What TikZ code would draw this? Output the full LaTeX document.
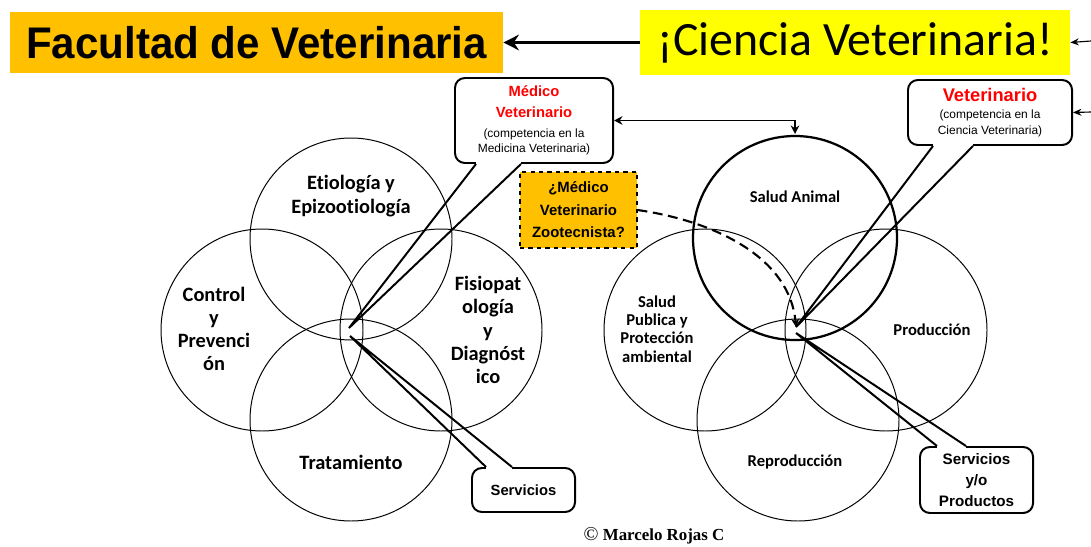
\documentclass[tikz,border=0pt]{standalone}
\usepackage{fontspec}
\setmainfont[Ligatures=NoCommon]{Carlito}
\newfontfamily\arial{Liberation Sans}
\newfontfamily\arialn[FakeStretch=0.95]{Liberation Sans}
\newfontfamily\serifb{Liberation Serif}
\usetikzlibrary{arrows.meta,calc,positioning}

\definecolor{orangebox}{HTML}{FFC000}
\definecolor{yellowbox}{HTML}{FFFF00}
\definecolor{redtext}{HTML}{FF0000}

\tikzset{
    venn/.style={line width=0.7pt},
    vennthick/.style={line width=1.6pt},
    biglabel/.style={font=\bfseries\fontsize{14.5}{16.5}\selectfont, align=center, inner sep=0pt},
    smalllabel/.style={font=\bfseries\fontsize{11.8}{13}\selectfont, align=center, inner sep=0pt},
    callout/.style={draw, line width=1.4pt, rounded corners=7pt, fill=white, align=center, inner sep=0pt},
    tail/.style={line width=1.4pt, line join=miter},
    bigarrow/.style={line width=2.2pt, -{Stealth[length=11pt,width=11pt]}},
    thinarrow/.style={line width=0.8pt, -{Stealth[length=6pt,width=5pt]}}
}

\begin{document}
\begin{tikzpicture}[x=0.025cm, y=-0.025cm]
    \useasboundingbox (0,0) rectangle (1091,546);

    % Titles
    \node[fill=orangebox, minimum width=12.325cm, minimum height=1.525cm, inner sep=0pt,
          font=\arialn\bfseries\fontsize{31.5}{36}\selectfont] (facultad) at (256.5,42.5) {Facultad de Veterinaria};
    \node[fill=yellowbox, minimum width=10.75cm, minimum height=1.625cm, inner sep=0pt,
          font=\fontsize{34}{40}\selectfont] (ciencia) at (855,42.5) {¡Ciencia Veterinaria!};
    \draw[bigarrow] (ciencia.west) -- (facultad.east);

    % Arrows coming in from the right
    \coordinate (inA) at (1091,41);
    \coordinate (inB) at (1091,112);
    \draw[thinarrow] (inA) -- (ciencia.east);

    % Left circles
    \foreach \c in {(351,239), (262,330), (441,330), (351,420)}
        \draw[venn] \c circle (101);

    % Right circles (Salud Animal thicker)
    \foreach \c in {(705,330), (886,330), (798,420)}
        \draw[venn] \c circle (101);
    \draw[vennthick] (795,238) circle (102);

    % Circle labels
    \node[biglabel] (etio) at (351,196) {Etiología y\\Epizootiología};
    \node[biglabel] (control) at (214,329) {Control\\y\\Prevenci\\ón};
    \node[biglabel] (fisio) at (488,330) {Fisiopat\\ología\\y\\Diagnóst\\ico};
    \node[biglabel] (trata) at (351,462) {Tratamiento};
    \node[smalllabel] (animal) at (795,197) {Salud Animal};
    \node[smalllabel] (publica) at (657,329) {Salud\\Publica y\\Protección\\ambiental};
    \node[smalllabel] (produccion) at (932,330) {Producción};
    \node[smalllabel] (reproduccion) at (795,462) {Reproducción};

    % Callouts
    \node[callout, minimum width=3.95cm, minimum height=2.125cm,
          font=\arial\bfseries\fontsize{10.5}{15}\selectfont] (mv) at (534,120.5)
        {\textcolor{redtext}{Médico}\\\textcolor{redtext}{Veterinario}\\[-1pt]
         {\fontsize{8.5}{10}\selectfont\mdseries (competencia en la}\\[-4pt]
         {\fontsize{8.5}{10}\selectfont\mdseries Medicina Veterinaria)}};
    \node[callout, minimum width=4.1cm, minimum height=1.625cm,
          font=\arial\bfseries\fontsize{13}{16}\selectfont] (vet) at (990,112.5)
        {\textcolor{redtext}{Veterinario}\\[-4pt]
         {\fontsize{8.5}{10}\selectfont\mdseries (competencia en la}\\[-5pt]
         {\fontsize{8.5}{10}\selectfont\mdseries Ciencia Veterinaria)}};
    \node[callout, minimum width=2.575cm, minimum height=1.1cm,
          font=\arial\bfseries\fontsize{10.5}{14}\selectfont] (serv) at (523.5,490) {Servicios};
    \node[callout, minimum width=2.825cm, minimum height=1.65cm,
          font=\arial\bfseries\fontsize{10.8}{15.2}\selectfont] (servprod) at (976.5,480) {Servicios\\y/o\\Productos};
    \node[draw, dashed, line width=0.8pt, fill=orangebox, minimum width=2.925cm, minimum height=1.9cm,
          inner sep=0pt, align=center, font=\arial\bfseries\fontsize{10.6}{16}\selectfont] (mvz) at (578.5,210)
        {¿Médico\\Veterinario\\Zootecnista?};

    % Callout tails
    \coordinate (mvtip) at (349,328);
    \coordinate (servtip) at (350,336);
    \coordinate (vettip) at (796,327);
    \coordinate (servprodtip) at (796,333);
    \draw[white, line width=2.5pt] ($(mv.south west)+(22,0)$) -- ($(mv.south west)+(67,0)$);
    \draw[tail] ($(mv.south west)+(22,0)$) -- (mvtip) -- ($(mv.south west)+(67,0)$);
    \draw[white, line width=2.5pt] ($(vet.south west)+(26,0)$) -- ($(vet.south west)+(66,0)$);
    \draw[tail] ($(vet.south west)+(26,0)$) -- (vettip) -- ($(vet.south west)+(66,0)$);
    \draw[white, line width=2.5pt] ($(serv.north west)+(15,0)$) -- ($(serv.north west)+(41,0)$);
    \draw[tail] ($(serv.north west)+(15,0)$) -- (servtip) -- ($(serv.north west)+(41,0)$);
    \draw[white, line width=2.5pt] ($(servprod.north west)+(18,0)$) -- ($(servprod.north west)+(47,0)$);
    \draw[tail] ($(servprod.north west)+(18,0)$) -- (servprodtip) -- ($(servprod.north west)+(47,0)$);

    \draw[thinarrow] (inB) -- (vet.east);

    % Links
    \coordinate (animaltop) at (795,134);
    \draw[line width=1.2pt, {Stealth[length=6pt,width=6pt]}-{Stealth[length=6pt,width=6pt]}] (mv.east) -| (animaltop);
    \draw[line width=1.5pt, dash pattern=on 7pt off 4pt, -{Stealth[length=6pt,width=6pt]}]
        (mvz.east) .. controls (720,222) and (790,260) .. (vettip);

    % Author
    \node[font=\serifb\bfseries\fontsize{12}{13}\selectfont] (autor) at (654,536)
        {{\mdseries\fontsize{14}{14}\selectfont ©}~Marcelo Rojas C};
\end{tikzpicture}
\end{document}
